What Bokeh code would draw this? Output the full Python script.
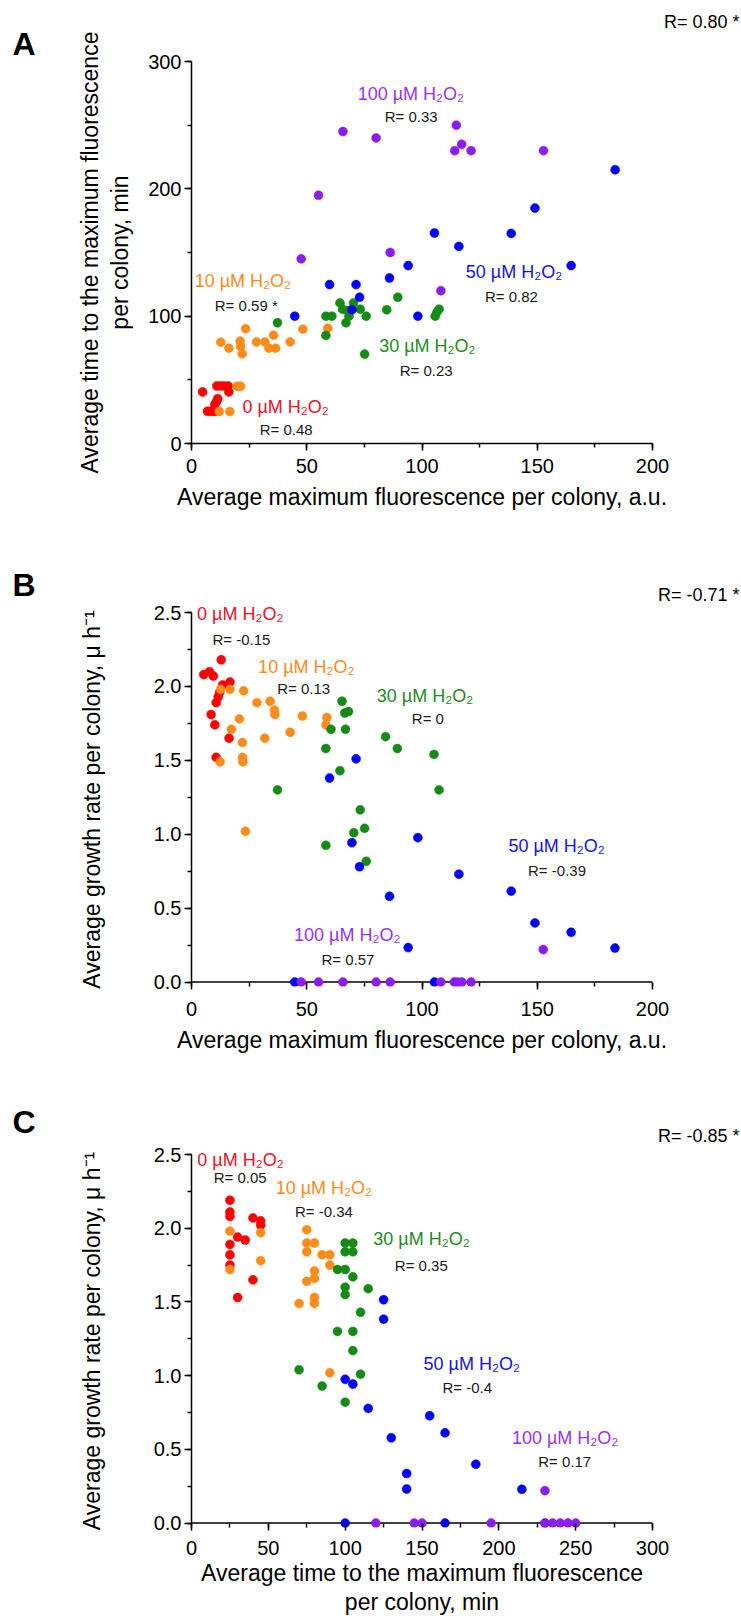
from bokeh.plotting import figure
from bokeh.models import Range1d, SingleIntervalTicker, Label, PrintfTickFormatter, Span
from bokeh.layouts import column
from bokeh.embed import file_html
from bokeh.resources import INLINE

FONT = "Liberation Sans"

# ---------------- data ----------------
groups = ["0 µM H₂O₂", "10 µM H₂O₂", "30 µM H₂O₂", "50 µM H₂O₂", "100 µM H₂O₂"]
point_colors = ["#FF0000", "#FF8C1A", "#158A15", "#0000FF", "#8B1CF2"]
label_colors = ["#F0102A", "#FF8C1A", "#1E8C1E", "#1414E6", "#9A32F2"]

# Panel A: x = average maximum fluorescence (a.u.), y = time to maximum (min)
a_red_x = [4.8, 6.9, 8.2, 9.5, 10.5, 10.1, 10.9, 11.4, 11.0, 12.6, 14.2, 15.9, 16.2]
a_red_y = [40.5, 25.3, 25.3, 25.3, 25.3, 30.8, 33.0, 35.2, 45.2, 45.2, 45.2, 45.2, 40.5]
a_orange_x = [12.7, 16.2, 21.1, 21.3, 22.0, 23.5, 28.2, 31.8, 33.6, 35.6, 36.5, 42.8, 48.3, 59.1, 19.8, 21.3, 12.0, 16.6]
a_orange_y = [79.6, 74.9, 80.4, 76.2, 70.4, 90.1, 79.8, 79.8, 74.9, 85.1, 74.9, 79.8, 89.8, 90.6, 45.0, 45.0, 25.1, 25.1]
a_green_x = [37.3, 58.3, 58.3, 60.9, 64.4, 65.5, 67.7, 70.3, 67.0, 68.3, 73.2, 75.8, 75.1, 84.7, 89.5, 105.7, 106.4, 107.4]
a_green_y = [94.8, 84.9, 100, 100, 110.4, 105.5, 104.4, 110.4, 94.8, 100, 105.5, 100, 70.2, 105, 114.9, 100, 103, 105.5]
a_blue_x = [149.0, 105.4, 138.7, 116.0, 94.0, 164.7, 85.9, 59.9, 71.4, 72.9, 69.6, 44.8, 98.2, 183.8]
a_blue_y = [184.9, 165.3, 165, 154.8, 139.7, 139.7, 130, 124.8, 124.8, 114.9, 105, 100, 100, 215]
a_purple_x = [65.7, 80.1, 114.9, 114.2, 117.2, 121.3, 152.7, 55.1, 47.6, 86.2, 108.2]
a_purple_y = [245, 240, 250, 230, 235, 230, 230, 195, 145, 150, 120]

# Panel B: x = average maximum fluorescence (a.u.), y = growth rate (1/h)
b_red_x = [12.9, 5.3, 7.8, 9.5, 13.5, 16.7, 12.2, 11.6, 10.7, 8.5, 10.1, 16.3, 10.7]
b_red_y = [2.18, 2.08, 2.10, 2.07, 2.01, 2.03, 1.96, 1.93, 1.89, 1.81, 1.74, 1.65, 1.52]
b_orange_x = [12.6, 16.7, 22.6, 28.4, 34.1, 36.0, 36.2, 20.8, 48.1, 58.7, 58.3, 17.3, 42.8, 31.8, 22.1, 22.1, 12.4, 22.3, 23.4]
b_orange_y = [1.98, 1.98, 1.97, 1.89, 1.90, 1.84, 1.81, 1.78, 1.80, 1.79, 1.74, 1.71, 1.69, 1.65, 1.62, 1.52, 1.49, 1.49, 1.02]
b_green_x = [65.3, 66.5, 68.1, 60.5, 66.8, 84.2, 89.3, 105.2, 58.3, 37.3, 58.3, 64.4, 70.4, 73.2, 75.1, 75.8, 107.4]
b_green_y = [1.90, 1.82, 1.83, 1.71, 1.71, 1.66, 1.58, 1.54, 1.58, 1.30, 0.925, 1.43, 1.01, 1.165, 1.04, 0.817, 1.30]
b_blue_x = [71.4, 59.9, 69.6, 72.9, 98.2, 85.9, 116.0, 138.7, 149.0, 164.7, 183.7, 94.0, 44.8, 105.4]
b_blue_y = [1.51, 1.38, 0.943, 0.78, 0.977, 0.58, 0.73, 0.615, 0.40, 0.337, 0.23, 0.233, 0, 0]
b_purple_x = [47.6, 55.1, 65.7, 80.1, 86.2, 108.2, 114.0, 115.4, 117.3, 121.3, 152.6]
b_purple_y = [0, 0, 0, 0, 0, 0, 0, 0, 0, 0, 0.22]

# Panel C: x = time to maximum (min), y = growth rate (1/h)
c_red_x = [25, 25, 25, 25, 25, 25, 30, 30, 35, 40, 40, 45, 45]
c_red_y = [2.19, 2.11, 2.08, 1.89, 1.82, 1.75, 1.94, 1.53, 1.92, 2.07, 1.65, 2.05, 2.02]
c_orange_x = [25, 25, 45, 45, 75, 75, 80, 75, 85, 90, 90, 80, 80, 75, 80, 80, 70, 90]
c_orange_y = [1.98, 1.72, 1.97, 1.78, 1.99, 1.90, 1.90, 1.84, 1.82, 1.82, 1.75, 1.71, 1.66, 1.64, 1.53, 1.49, 1.49, 1.02]
c_green_x = [100, 105, 100, 105, 95, 100, 105, 100, 100, 115, 110, 95, 105, 105, 70, 110, 85, 100]
c_green_y = [1.90, 1.90, 1.84, 1.84, 1.72, 1.72, 1.67, 1.60, 1.55, 1.59, 1.43, 1.30, 1.30, 1.17, 1.04, 1.01, 0.93, 0.82]
c_blue_x = [125, 125, 100, 105, 115, 130, 155, 165, 185, 140, 140, 215, 100, 165]
c_blue_y = [1.515, 1.383, 0.975, 0.943, 0.778, 0.578, 0.728, 0.612, 0.399, 0.336, 0.231, 0.229, 0, 0]
c_purple_x = [230, 120, 145, 150, 195, 230, 230, 235, 240, 245, 250]
c_purple_y = [0.22, 0, 0, 0, 0, 0, 0, 0, 0, 0, 0]

r_labels_a = ["R= 0.48", "R= 0.59 *", "R= 0.23", "R= 0.82", "R= 0.33"]
r_labels_b = ["R= -0.15", "R= 0.13", "R= 0", "R= -0.39", "R= 0.57"]
r_labels_c = ["R= 0.05", "R= -0.34", "R= 0.35", "R= -0.4", "R= 0.17"]
r_overall = ["R= 0.80 *", "R= -0.71 *", "R= -0.85 *"]
panel_letters = ["A", "B", "C"]

LEFT, FW, RIGHT = 191, 461, 89


class Geo:
    def __init__(self, top, fh, bottom, x1, y0, y1):
        self.top, self.fh, self.bottom = top, fh, bottom
        self.x0, self.x1, self.y0, self.y1 = 0, x1, y0, y1

    def canvas(self, x, y):
        cx = LEFT + (x - self.x0) / (self.x1 - self.x0) * FW
        cy = self.top + (self.y1 - y) / (self.y1 - self.y0) * self.fh
        return cx, cy


def make_fig(g, xint, yint, xlabel, ylabel, ystandoff, xstandoff=8, xlab_standoff=8,
             yfmt=None, zero_axis=False):
    p = figure(frame_width=FW, frame_height=g.fh,
               min_border_left=LEFT, min_border_right=RIGHT,
               min_border_top=g.top, min_border_bottom=g.bottom,
               x_range=Range1d(g.x0, g.x1), y_range=Range1d(g.y0, g.y1),
               output_backend="svg", toolbar_location=None)
    p.outline_line_color = None
    p.xgrid.visible = False
    p.ygrid.visible = False
    p.xaxis.ticker = SingleIntervalTicker(interval=xint, num_minor_ticks=2)
    p.yaxis.ticker = SingleIntervalTicker(interval=yint, num_minor_ticks=2)
    if yfmt:
        p.yaxis.formatter = PrintfTickFormatter(format=yfmt)
    for ax in (p.xaxis[0], p.yaxis[0]):
        ax.axis_line_width = 1.5
        ax.major_tick_line_width = 1.5
        ax.minor_tick_line_width = 1.5
        ax.major_tick_out = 7
        ax.major_tick_in = 0
        ax.minor_tick_out = 4
        ax.minor_tick_in = 0
        ax.major_label_text_font = FONT
        ax.major_label_text_font_size = "20px"
        ax.major_label_text_color = "black"
        ax.axis_label_text_font = FONT
        ax.axis_label_text_font_size = "23px"
        ax.axis_label_text_font_style = "normal"
        ax.axis_label_text_color = "black"
        ax.axis_label_text_line_height = 1.15
    p.xaxis.major_label_standoff = xstandoff
    p.yaxis.major_label_standoff = 3
    p.xaxis.axis_label_standoff = xlab_standoff
    p.yaxis.axis_label_standoff = ystandoff
    p.xaxis.axis_label = xlabel
    p.yaxis.axis_label = ylabel
    if zero_axis:
        # axis line drawn at y = 0; frame bottom sits a few px lower so dots at 0 are whole
        off = int(round(-g.y0 / (g.y1 - g.y0) * g.fh))
        xa = p.xaxis[0]
        xa.axis_line_color = None
        xa.major_tick_in = off
        xa.major_tick_out = 7 - off
        xa.minor_tick_in = off
        xa.minor_tick_out = 0
        xa.major_label_standoff = xstandoff + off
        p.yaxis.bounds = (0, g.y1)
        p.add_layout(Span(location=0, dimension="width", line_color="black",
                          line_width=1.5, level="underlay"))
    return p


def add_points(p, xs, ys):
    for x, y, c in zip(xs, ys, point_colors):
        p.scatter(x, y, size=9, marker="circle", fill_color=c, line_color=c, line_width=0.5)


def free_label(p, cx, cy, text, size, color, align="left", style="normal"):
    p.add_layout(Label(x=cx, y=cy, x_units="canvas", y_units="canvas", text=text,
                       text_font=FONT, text_font_size=size, text_font_style=style,
                       text_color=color, text_align=align, text_baseline="middle"), "above")


def add_group_labels(p, g, positions, rtexts):
    for grp, (gx, gy, rx, ry), rt, col in zip(groups, positions, rtexts, label_colors):
        if gy > g.y1 - 0.03 * (g.y1 - g.y0):
            cx, cy = g.canvas(gx, gy)
            free_label(p, cx, cy, grp, "18px", col)
        else:
            p.add_layout(Label(x=gx, y=gy, text=grp, text_font=FONT, text_font_size="18px",
                               text_color=col, text_align="left", text_baseline="middle"))
        p.add_layout(Label(x=rx, y=ry, text=rt, text_font=FONT, text_font_size="15px",
                           text_color="#1a1a1a", text_align="left", text_baseline="middle"))


def add_corner(p, letter, ly, rtext, ry):
    free_label(p, 12, ly, letter, "32px", "black", style="bold")
    free_label(p, 739, ry, rtext, "18px", "black", align="right")


# ---------------- Panel A ----------------
ga = Geo(61, 382, 82, 200, 0, 300)
pa = make_fig(ga, 50, 100, "Average maximum fluorescence per colony, a.u.",
              "Average time to the maximum fluorescence\nper colony, min", 12)
add_points(pa, [a_red_x, a_orange_x, a_green_x, a_blue_x, a_purple_x],
           [a_red_y, a_orange_y, a_green_y, a_blue_y, a_purple_y])
add_group_labels(pa, ga, [(22.1, 28.7, 29.6, 11.0), (1.4, 128, 10.1, 108), (81.4, 76.4, 90.3, 57.4),
                          (119, 134.4, 127.3, 115.6), (72.1, 274.5, 83.8, 256.8)], r_labels_a)
add_corner(pa, panel_letters[0], 43, r_overall[0], 21)

# ---------------- Panel B ----------------
gb = Geo(87, 374, 82, 200, -0.03, 2.5)
pb = make_fig(gb, 50, 0.5, "Average maximum fluorescence per colony, a.u.",
              "Average growth rate per colony, μ h⁻¹", 46, yfmt="%.1f", zero_axis=True)
add_points(pb, [b_red_x, b_orange_x, b_green_x, b_blue_x, b_purple_x],
           [b_red_y, b_orange_y, b_green_y, b_blue_y, b_purple_y])
add_group_labels(pb, gb, [(2.4, 2.489, 9.1, 2.317), (28.9, 2.133, 37.2, 1.984), (80.4, 1.938, 95.6, 1.78),
                          (137.5, 0.921, 146, 0.758), (44.5, 0.317, 56.4, 0.152)], r_labels_b)
add_corner(pb, panel_letters[1], 59, r_overall[1], 69)

# ---------------- Panel C ----------------
gc = Geo(86, 373, 94, 300, -0.03, 2.5)
pc = make_fig(gc, 50, 0.5, "Average time to the maximum fluorescence\nper colony, min",
              "Average growth rate per colony, μ h⁻¹", 46, xstandoff=6, xlab_standoff=2,
              yfmt="%.1f", zero_axis=True)
add_points(pc, [c_red_x, c_orange_x, c_green_x, c_blue_x, c_purple_x],
           [c_red_y, c_orange_y, c_green_y, c_blue_y, c_purple_y])
add_group_labels(pc, gc, [(3.8, 2.466, 14.4, 2.341), (54.8, 2.273, 67.3, 2.114), (118.3, 1.925, 132.3, 1.75),
                          (151, 1.079, 163.3, 0.921), (208.5, 0.574, 225.6, 0.415)], r_labels_c)
add_corner(pc, panel_letters[2], 53, r_overall[2], 67)

layout = column(pa, pb, pc, spacing=0)
open("out.html", "w").write(file_html(layout, INLINE))
